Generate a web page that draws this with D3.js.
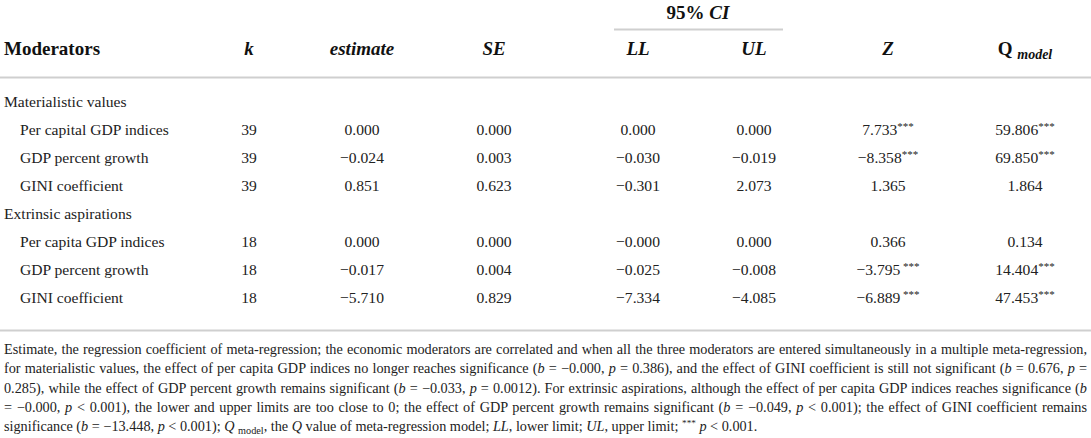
<!DOCTYPE html>
<html lang="en">
<head>
  <meta charset="UTF-8">
  <title>Meta-regression of economic moderators</title>
  <style>
    body { margin: 0; background: #fff; }
    svg { font-family: "Liberation Serif", "DejaVu Serif", serif; }
    .head { font-size: 19px; font-weight: bold; fill: #111; }
    .cell { font-size: 15.6px; fill: #222; }
    .note { font-size: 14.6px; fill: #222; }
    .rule { stroke: #cfcfcf; stroke-width: 2; }
  </style>
</head>
<body>
  <svg width="1091" height="438"></svg>
  <script src="https://d3js.org/d3.v7.min.js"></script>
  <script>
    const width = 1091, height = 438;

    // table values
    const groups = ["Materialistic values", "Extrinsic aspirations"];
    const moderators = ["Per capital GDP indices", "GDP percent growth", "GINI coefficient",
                        "Per capita GDP indices", "GDP percent growth", "GINI coefficient"];
    const groupOf = [0, 0, 0, 1, 1, 1];
    const kValues = [39, 39, 39, 18, 18, 18];
    const estimates = [0.000, -0.024, 0.851, 0.000, -0.017, -5.710];
    const seValues = [0.000, 0.003, 0.623, 0.000, 0.004, 0.829];
    const llValues = [0.000, -0.030, -0.301, -0.000, -0.025, -7.334];
    const ulValues = [0.000, -0.019, 2.073, 0.000, -0.008, -4.085];
    const zValues = [7.733, -8.358, 1.365, 0.366, -3.795, -6.889];
    const zSig = [true, true, false, false, true, true];
    const qValues = [59.806, 69.850, 1.864, 0.134, 14.404, 47.453];
    const qSig = [true, true, false, false, true, true];

    const columns = ["k", "estimate", "SE", "LL", "UL", "Z", "Q"];
    const notes = [
      "Estimate, the regression coefficient of meta-regression; the economic moderators are correlated and when all the three moderators are entered simultaneously in a multiple meta-regression,",
      "for materialistic values, the effect of per capita GDP indices no longer reaches significance ({i:b} = −0.000, {i:p} = 0.386), and the effect of GINI coefficient is still not significant ({i:b} = 0.676, {i:p} =",
      "0.285), while the effect of GDP percent growth remains significant ({i:b} = −0.033, {i:p} = 0.0012). For extrinsic aspirations, although the effect of per capita GDP indices reaches significance ({i:b}",
      "= −0.000, {i:p} < 0.001), the lower and upper limits are too close to 0; the effect of GDP percent growth remains significant ({i:b} = −0.049, {i:p} < 0.001); the effect of GINI coefficient remains",
      "significance ({i:b} = −13.448, {i:p} < 0.001); {i:Q} {sub:model}, the {i:Q} value of meta-regression model; {i:LL}, lower limit; {i:UL}, upper limit; {sup:***} {i:p} < 0.001."
    ];

    const svg = d3.select("svg").attr("width", width).attr("height", height);

    const x = d3.scaleOrdinal().domain(columns)
      .range([249, 362, 494, 638, 754, 888, 1025]);
    // line index 0..7 (group labels + moderator rows)
    const y = d3.scaleLinear().domain([0, 7]).range([107, 303]);
    const noteY = d3.scaleLinear().domain([0, 4]).range([354, 431]);

    const fmt = v => (v < 0 || Object.is(v, -0) ? "−" : "") + d3.format(".3f")(Math.abs(v));

    // ---- header
    const head = svg.append("g").attr("class", "head");
    head.append("text").attr("x", 4).attr("y", 55).text("Moderators");
    const ci = head.append("text").attr("x", 698).attr("y", 19).attr("text-anchor", "middle");
    ci.append("tspan").text("95% ");
    ci.append("tspan").attr("font-style", "italic").text("CI");
    svg.append("line").attr("class", "rule")
      .attr("x1", 614).attr("x2", 783).attr("y1", 29.5).attr("y2", 29.5);

    columns.forEach(c => {
      const t = head.append("text").attr("x", x(c)).attr("y", 55).attr("text-anchor", "middle");
      if (c === "Q") {
        t.append("tspan").text("Q ");
        t.append("tspan").attr("font-style", "italic").attr("font-size", 14).attr("dy", 4).text("model");
      } else {
        t.attr("font-style", "italic").text(c);
      }
    });
    svg.append("line").attr("class", "rule")
      .attr("x1", 0).attr("x2", width).attr("y1", 77.5).attr("y2", 77.5);

    // ---- body
    const body = svg.append("g").attr("class", "cell");
    const lineOf = i => i + 1 + groupOf[i];

    groups.forEach((g, gi) => {
      body.append("text").attr("x", 4).attr("y", y(gi * 4)).text(g);
    });

    const rows = body.selectAll("g.row")
      .data(moderators.map((m, i) => ({
        name: m, i,
        k: String(kValues[i]),
        estimate: fmt(estimates[i]),
        SE: fmt(seValues[i]),
        LL: fmt(llValues[i]),
        UL: fmt(ulValues[i]),
        Z: fmt(zValues[i]),
        zStars: zSig[i] ? (groupOf[i] === 1 ? " ***" : "***") : "",
        Q: fmt(qValues[i]),
        qStars: qSig[i] ? "***" : ""
      })))
      .join("g")
      .attr("class", "row")
      .attr("transform", d => `translate(0,${y(lineOf(d.i))})`);

    rows.append("text").attr("x", 20).text(d => d.name);

    columns.forEach(c => {
      const t = rows.append("text")
        .attr("x", x(c))
        .attr("text-anchor", "middle");
      t.append("tspan").text(d => d[c]);
      if (c === "Z" || c === "Q") {
        t.append("tspan")
          .attr("font-size", 11)
          .attr("dy", -5)
          .text(d => c === "Z" ? d.zStars : d.qStars);
      }
    });

    svg.append("line").attr("class", "rule")
      .attr("x1", 0).attr("x2", width).attr("y1", 330.5).attr("y2", 330.5);

    // ---- footnote, justified to the table width
    const noteG = svg.append("g").attr("class", "note");
    const noteTexts = notes.map((line, li) => {
      const t = noteG.append("text").attr("x", 4).attr("y", noteY(li));
      let shift = 0;
      line.split(/(\{(?:i|sub|sup):[^}]+\})/).filter(s => s.length).forEach(seg => {
        const m = seg.match(/^\{(i|sub|sup):([^}]+)\}$/);
        const sp = t.append("tspan");
        if (!m) {
          sp.text(seg);
          if (shift) { sp.attr("dy", -shift); shift = 0; }
          return;
        }
        sp.text(m[2]);
        let dy = -shift;
        shift = 0;
        if (m[1] === "i") sp.attr("font-style", "italic");
        if (m[1] === "sub") { sp.attr("font-size", "0.72em"); dy += 3; shift = 3; }
        if (m[1] === "sup") { sp.attr("font-size", "0.65em"); dy -= 5; shift = -5; }
        if (dy) sp.attr("dy", dy);
      });
      return t;
    });

    // grow the font until the widest justified line nearly fills the width
    const widest = d3.max(noteTexts.slice(0, 4), t => t.node().getComputedTextLength());
    noteG.style("font-size", (14.6 * 1070 / widest) + "px");
    noteTexts.forEach((t, li) => {
      if (li === notes.length - 1) return;
      const natural = t.node().getComputedTextLength();
      const spaces = (notes[li].replace(/\{[a-z]+:/g, "").match(/ /g) || []).length;
      t.attr("word-spacing", (1083 - natural) / spaces);
    });
  </script>
</body>
</html>
